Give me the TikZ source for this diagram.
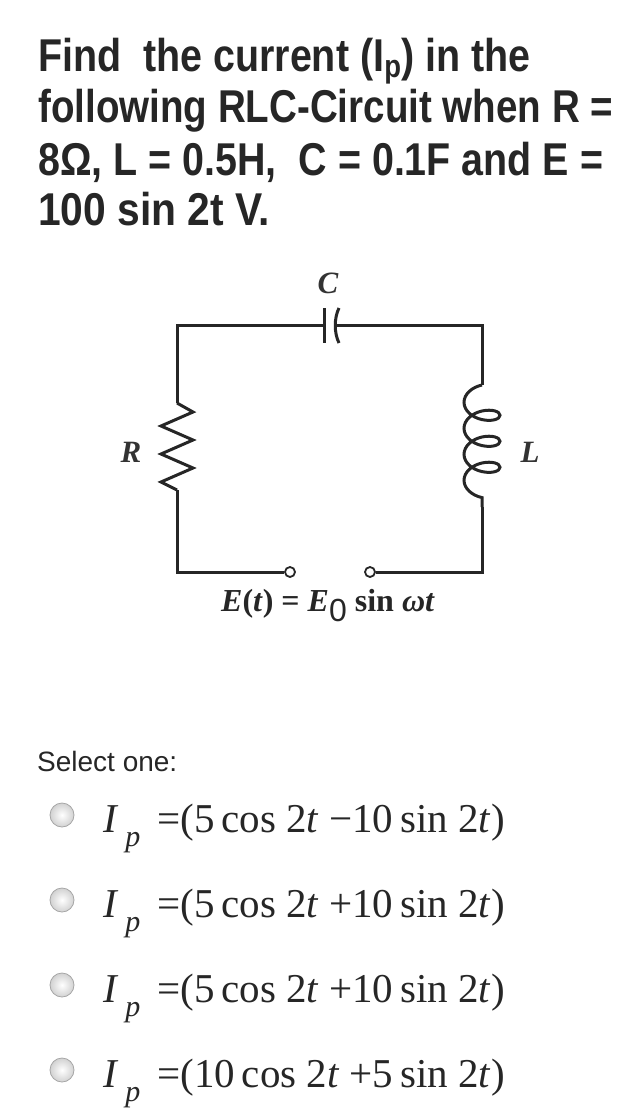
\documentclass[tikz,border=0pt]{standalone}
\usepackage{fontspec}
\setmainfont{Liberation Serif}
\newfontfamily\sans{Liberation Sans}
\usetikzlibrary{decorations.pathmorphing}
\begin{document}
\begin{tikzpicture}[x=1pt,y=-1pt,
  wire/.style={line width=3pt,black!85},
  ttl/.style={anchor=base west,inner sep=0pt,font=\sans\bfseries\fontsize{46}{50}\selectfont,text=black!85},
  opt/.style={anchor=base west,inner sep=0pt,font=\fontsize{41}{44}\selectfont,text=black!85},
  lbl/.style={font=\bfseries\itshape\fontsize{31}{33}\selectfont,text=black!80},
  radio/.style={circle,draw=black!35,line width=0.8pt,minimum size=24pt,inner sep=0pt,inner color=white,outer color=black!18},
  term/.style={circle,draw=black!85,line width=1.8pt,fill=white,minimum size=10pt,inner sep=0pt}]
\useasboundingbox (0,0) rectangle (625,1113);
% title
\node[ttl] (t1) at (38,72) {\resizebox{492pt}{\height}{Find\ \ the current (I\raisebox{-6pt}{\fontsize{32}{34}\selectfont p}) in the}};
\node[ttl] (t2) at (38,123) {\resizebox{575pt}{\height}{following RLC-Circuit when R =}};
\node[ttl] (t3) at (38,175) {\resizebox{565pt}{\height}{8Ω, L = 0.5H,\ \ C = 0.1F and E =}};
\node[ttl] (t4) at (38,225) {\resizebox{232pt}{\height}{100 sin 2t V.}};
% circuit
\coordinate (tl) at (177,325); \coordinate (tr) at (482,325);
\coordinate (bl) at (177,572); \coordinate (br) at (482,572);
\coordinate (c1) at (324,325); \coordinate (c2) at (337,325);
\coordinate (r1) at (177,403); \coordinate (r2) at (177,490);
\coordinate (l1) at (482,385); \coordinate (l2) at (482,507);
\node[term] (ta) at (290,572) {};
\node[term] (tb) at (370,572) {};
\draw[wire] (r1) -- (tl) -- (c1);
\draw[wire] (c2) -- (tr) -- (l1);
\draw[wire] (l2) -- (br) -- (tb);
\draw[wire] (r2) -- (bl) -- (ta);
\draw[wire] (324,308) -- (324,343);
\draw[wire] (339,308) .. controls (334,318) and (334,333) .. (339,343);
\draw[wire,line join=miter] (r1) -- (193,412) -- (161,426) -- (193,440) -- (161,454) -- (193,468) -- (161,482) -- (r2);
\draw[wire,decorate,decoration={coil,aspect=0.6,segment length=26pt,amplitude=18pt,mirror}] (l1) -- (l2);
\node[lbl] (lc) at (328,283) {C};
\node[lbl] (lr) at (131,452) {R};
\node[lbl] (ll) at (530,452) {L};
\node[font=\bfseries\fontsize{32}{34}\selectfont,text=black!85] (le) at (328,606) {\textit{E}(\textit{t}) = \textit{E}\raisebox{-10pt}{\sans\mdseries 0} sin \textit{ωt}};
% options
\node[anchor=base west,inner sep=0pt,font=\sans\fontsize{28}{30}\selectfont,text=black!85] (sel) at (37,771) {Select one:};
\foreach \y/\a [count=\i] in {815/5\,cos 2\textit{t} −10\,sin 2\textit{t}, 900/5\,cos 2\textit{t} +10\,sin 2\textit{t}, 985/5\,cos 2\textit{t} +10\,sin 2\textit{t}, 1070/10\,cos 2\textit{t} +5\,sin 2\textit{t}}{
  \node[radio] (rad\i) at (62,\y) {};
  \node[opt] (eq\i) at (103,\y+17) {\textit{I}\,\raisebox{-14pt}{\fontsize{30}{32}\selectfont\textit{p}}\, =(\a)};
}
\end{tikzpicture}
\end{document}
